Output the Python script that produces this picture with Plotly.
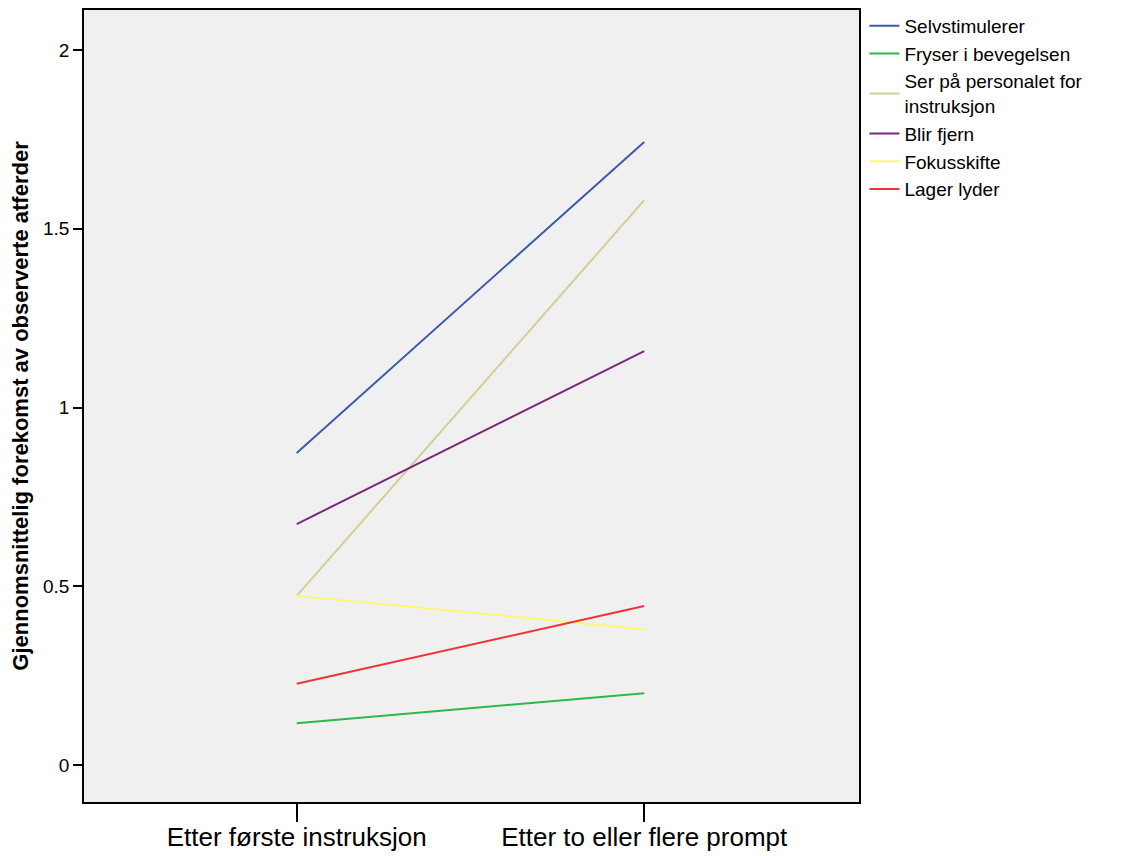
import plotly.graph_objects as go

categories = ["Etter første instruksjon", "Etter to eller flere prompt"]
series_names = ["Selvstimulerer", "Fryser i bevegelsen", "Ser på personalet for<br>instruksjon",
                "Blir fjern", "Fokusskifte", "Lager lyder"]
selvstimulerer = [0.873, 1.743]
fryser = [0.117, 0.201]
ser_paa = [0.473, 1.580]
blir_fjern = [0.674, 1.158]
fokusskifte = [0.473, 0.380]
lager_lyder = [0.227, 0.445]
series_values = [selvstimulerer, fryser, ser_paa, blir_fjern, fokusskifte, lager_lyder]
colors = ["#3E58AC", "#2EB848", "#D3CE97", "#7C287D", "#FBF873", "#EF3338"]
y_ticks = [0, 0.5, 1, 1.5, 2]
y_tick_labels = ["0", "0.5", "1", "1.5", "2"]

fig = go.Figure()
for name, vals, c in zip(series_names, series_values, colors):
    fig.add_trace(go.Scatter(x=categories, y=vals, mode="lines", name=name,
                             line=dict(color=c, width=2)))

fig.update_layout(
    width=1132, height=856,
    margin=dict(l=76, r=281, t=2, b=62, autoexpand=False),
    paper_bgcolor="white", plot_bgcolor="#F0F0F0",
    font=dict(family="Liberation Sans, Arial, sans-serif", color="black"),
    showlegend=True,
    legend=dict(x=1.007, xanchor="left", y=1.004, yanchor="top", bgcolor="rgba(0,0,0,0)",
                font=dict(size=19), tracegroupgap=0, itemwidth=30,
                traceorder="normal"),
)
fig.update_xaxes(type="category", range=[-0.612, 1.618], showgrid=False, zeroline=False,
                 showline=True, linecolor="black", linewidth=1.5, mirror=True,
                 ticks="outside", ticklen=18, tickcolor="black", tickwidth=1.5,
                 ticklabelstandoff=-7,
                 tickfont=dict(size=26), automargin=False)
fig.update_yaxes(range=[-0.1035, 2.112], showgrid=False, zeroline=False,
                 showline=True, linecolor="black", linewidth=1.5, mirror=True,
                 ticks="outside", ticklen=9, tickcolor="black", tickwidth=1.5,
                 tickvals=y_ticks, ticktext=y_tick_labels, tickfont=dict(size=19),
                 automargin=False,
                 title=dict(text="<b>Gjennomsnittelig forekomst av observerte atferder</b>",
                            font=dict(size=22, family="Liberation Sans Narrow, Arial Narrow, sans-serif"),
                            standoff=14))

fig.write_html("out.html")
